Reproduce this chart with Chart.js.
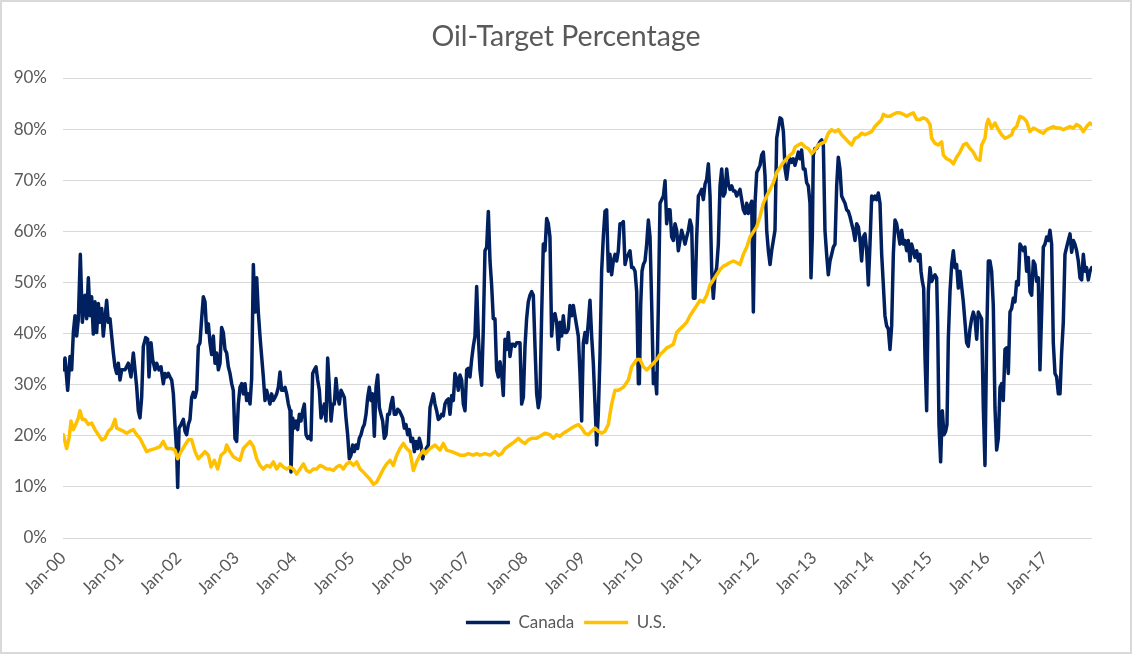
<!DOCTYPE html>
<html>
<head>
<meta charset="utf-8">
<title>Oil-Target Percentage</title>
<script src="https://cdn.jsdelivr.net/npm/chart.js@4.4.1/dist/chart.umd.min.js"></script>
<style>
    html, body { margin: 0; padding: 0; background: #ffffff; }
    #wrap { position: relative; width: 1132px; height: 654px; }
</style>
</head>
<body>
<div id="wrap"><canvas id="oilChart"></canvas></div>
<script>
// Years are counted from Jan 2000 (0 = Jan-00), values are percent
const tickLabels = ['Jan-00', 'Jan-01', 'Jan-02', 'Jan-03', 'Jan-04', 'Jan-05', 'Jan-06', 'Jan-07', 'Jan-08',
    'Jan-09', 'Jan-10', 'Jan-11', 'Jan-12', 'Jan-13', 'Jan-14', 'Jan-15', 'Jan-16', 'Jan-17'];
const yTickValues = [0, 10, 20, 30, 40, 50, 60, 70, 80, 90];
const lastYear = 17.818;

const canada = [
    [0.006,32.9],[0.035,35.2],[0.081,28.9],[0.121,35.5],[0.150,32.9],[0.179,40.2],[0.208,43.5],[0.237,39.5],
    [0.266,42.9],[0.300,55.5],[0.335,42.2],[0.381,47.5],[0.410,42.9],[0.439,50.9],[0.468,43.5],[0.496,47.2],
    [0.525,39.9],[0.554,46.2],[0.583,40.2],[0.612,45.9],[0.641,42.2],[0.670,44.9],[0.698,39.5],[0.727,42.9],
    [0.756,46.5],[0.785,42.2],[0.814,42.9],[0.843,39.5],[0.872,36.2],[0.900,33.5],[0.929,32.2],[0.958,34.2],
    [0.987,30.9],[1.016,32.9],[1.074,32.9],[1.131,34.2],[1.177,31.5],[1.218,36.2],[1.247,32.9],[1.276,29.5],
    [1.304,24.9],[1.333,23.5],[1.362,27.5],[1.391,37.5],[1.431,39.2],[1.466,38.9],[1.489,31.5],[1.524,38.2],
    [1.553,34.9],[1.593,32.9],[1.622,34.2],[1.662,32.9],[1.697,33.5],[1.737,30.2],[1.766,32.2],[1.795,31.5],
    [1.824,32.2],[1.853,31.5],[1.882,30.9],[1.911,28.2],[1.939,22.2],[1.968,16.9],[1.986,9.9],[2.009,21.5],
    [2.043,22.2],[2.084,23.2],[2.113,20.9],[2.141,20.2],[2.170,22.2],[2.199,23.2],[2.228,27.5],[2.257,28.5],
    [2.286,27.5],[2.315,28.9],[2.343,37.5],[2.372,38.2],[2.401,42.9],[2.430,47.2],[2.459,46.2],[2.488,40.2],
    [2.517,41.9],[2.545,38.2],[2.574,35.9],[2.603,39.5],[2.632,34.2],[2.661,36.2],[2.690,32.9],[2.719,34.2],
    [2.747,41.2],[2.776,40.2],[2.805,36.9],[2.834,36.2],[2.863,33.5],[2.892,32.2],[2.921,30.2],[2.949,28.9],
    [2.978,19.5],[3.007,18.9],[3.036,26.2],[3.065,29.5],
    [3.094,30.2],[3.123,28.2],[3.152,30.2],[3.180,26.9],[3.209,28.2],[3.238,26.2],[3.267,31.2],[3.296,53.5],
    [3.325,44.2],[3.354,50.9],[3.382,44.2],[3.411,39.5],[3.440,35.5],[3.469,31.5],[3.498,26.9],[3.527,28.9],
    [3.556,27.5],[3.584,26.2],[3.613,28.2],[3.642,26.9],[3.671,27.5],[3.700,28.2],[3.729,29.5],[3.758,32.5],
    [3.786,28.9],[3.815,28.9],[3.844,29.5],[3.873,28.2],[3.902,26.2],[3.931,24.9],[3.948,12.9],[3.977,23.5],
    [4.006,21.5],[4.035,22.9],[4.064,21.2],[4.092,24.2],[4.121,22.9],[4.150,24.9],[4.179,26.2],[4.208,20.2],
    [4.237,19.5],[4.266,19.9],[4.294,19.2],[4.323,32.2],[4.352,32.9],[4.381,33.5],[4.410,30.9],[4.439,28.9],
    [4.468,23.5],[4.496,24.9],[4.525,26.2],[4.554,22.9],[4.583,35.2],[4.612,29.5],[4.641,22.9],[4.670,26.2],
    [4.698,26.2],[4.727,31.2],[4.756,27.5],[4.785,26.2],[4.814,28.9],[4.843,28.2],[4.872,27.5],[4.900,23.5],
    [4.929,20.2],[4.958,15.5],[4.987,16.2],[5.016,18.2],[5.045,16.9],[5.074,18.2],[5.102,17.5],[5.131,19.5],
    [5.160,20.2],[5.189,21.5],[5.218,22.2],[5.247,24.2],[5.276,27.5],[5.304,29.5],[5.333,26.9],[5.362,28.2],
    [5.391,19.9],[5.420,29.5],[5.449,31.9],[5.478,25.5],[5.506,24.2],[5.535,22.9],[5.564,19.5],[5.593,20.2],
    [5.622,24.2],[5.651,24.2],[5.680,26.2],[5.708,27.5],[5.737,24.2],[5.766,24.2],[5.795,25.2],[5.824,24.9],
    [5.853,24.2],[5.882,23.5],[5.911,21.5],[5.939,22.2],[5.968,20.2],[5.997,21.2],[6.026,18.9],[6.055,19.5],
    [6.084,16.9],[6.113,18.9],[6.141,17.5],[6.170,19.5],[6.199,18.2],[6.228,15.5],[6.257,16.9],
    [6.326,18.2],[6.355,25.5],[6.412,28.2],[6.441,26.2],[6.470,24.9],[6.499,23.2],[6.528,23.5],[6.557,24.2],
    [6.585,23.9],[6.614,26.2],[6.643,26.9],[6.672,27.2],[6.701,24.2],[6.730,27.9],[6.759,26.9],[6.787,32.2],
    [6.816,31.2],[6.845,28.9],[6.874,31.9],[6.903,30.9],[6.932,26.2],[6.961,24.9],[6.990,32.9],[7.018,33.2],
    [7.047,31.5],[7.076,34.9],[7.105,37.5],[7.134,39.5],[7.163,49.2],[7.192,39.5],[7.220,32.9],[7.249,29.9],
    [7.278,40.9],[7.307,56.2],[7.336,56.9],[7.365,63.9],[7.394,54.2],[7.422,49.5],[7.451,42.9],[7.480,42.9],
    [7.509,32.9],[7.538,31.5],[7.567,34.5],[7.596,32.2],[7.624,27.9],[7.653,38.9],[7.682,36.9],[7.711,40.2],
    [7.740,35.5],[7.769,37.9],[7.798,37.9],[7.826,37.5],[7.855,38.2],[7.884,38.2],[7.913,38.2],[7.942,26.2],
    [7.971,27.5],[8.000,37.5],[8.028,42.9],[8.057,46.2],[8.086,47.5],[8.115,48.2],[8.144,47.5],[8.173,37.5],
    [8.202,28.2],[8.230,25.5],[8.259,27.5],[8.288,43.5],[8.317,57.5],[8.346,56.2],[8.375,62.5],[8.404,61.5],
    [8.432,58.9],[8.461,39.5],[8.490,43.5],[8.519,43.9],[8.548,42.2],[8.577,36.9],[8.606,42.2],[8.635,39.5],
    [8.663,43.5],[8.692,40.2],[8.721,40.2],[8.750,40.9],[8.779,45.5],[8.808,43.5],[8.837,45.5],[8.865,43.5],
    [8.894,41.5],[8.923,39.5],[8.952,32.2],[8.981,22.9],[9.010,38.2],[9.039,40.2],[9.067,38.2],[9.096,42.2],
    [9.125,46.5],[9.154,39.5],[9.183,34.2],[9.212,26.2],[9.241,18.2],[9.269,24.2],[9.298,35.5],[9.327,52.2],
    [9.356,58.9],[9.385,63.9],[9.414,64.2],[9.443,52.2],[9.471,55.5],[9.500,51.5],[9.529,54.2],
    [9.559,55.5],[9.588,54.2],[9.616,56.2],[9.645,61.5],[9.674,61.5],[9.703,61.9],[9.732,53.5],[9.761,54.9],
    [9.790,55.5],[9.818,56.2],[9.847,52.9],[9.876,52.9],[9.905,52.2],[9.934,48.2],[9.963,30.2],[9.980,30.2],
    [10.003,45.5],[10.026,52.2],[10.049,53.5],[10.078,54.2],[10.107,57.5],[10.136,62.2],[10.165,58.9],[10.194,45.5],
    [10.223,30.2],[10.251,32.2],[10.280,28.2],[10.309,45.5],[10.338,65.5],[10.367,66.2],[10.396,66.9],[10.425,69.9],
    [10.453,61.5],[10.482,64.2],[10.511,64.2],[10.540,58.9],[10.569,58.2],[10.598,61.5],[10.627,60.2],[10.655,56.2],
    [10.684,58.2],[10.713,60.2],[10.742,58.9],[10.771,57.5],[10.800,58.9],[10.829,60.2],[10.857,62.2],[10.886,60.9],
    [10.915,46.9],[10.944,46.9],[10.973,58.9],[11.002,66.9],[11.031,67.5],[11.059,68.2],[11.088,66.2],[11.117,69.2],
    [11.146,70.2],[11.175,73.2],[11.204,66.9],[11.233,52.2],[11.261,46.9],[11.290,51.5],[11.319,52.9],[11.348,57.5],
    [11.377,68.9],[11.406,72.2],[11.435,66.9],[11.463,67.5],[11.492,72.2],[11.521,69.2],[11.550,68.2],[11.579,68.9],
    [11.608,67.9],[11.637,67.9],[11.665,66.9],[11.694,67.5],[11.723,68.2],[11.752,66.2],[11.781,64.2],[11.810,63.5],
    [11.839,65.5],[11.867,63.5],[11.896,64.9],[11.925,65.9],[11.954,44.2],[11.983,65.5],[12.012,71.5],[12.041,72.2],
    [12.069,72.9],[12.098,74.9],[12.127,75.5],[12.156,70.9],[12.185,60.2],[12.214,56.2],[12.243,53.5],[12.271,56.2],
    [12.300,58.2],[12.329,60.2],[12.358,78.2],[12.387,80.2],[12.416,82.2],[12.445,81.9],[12.474,79.5],[12.503,72.2],
    [12.531,70.2],[12.560,72.9],[12.589,74.2],[12.618,73.5],[12.647,74.2],
    [12.675,72.9],[12.704,74.2],[12.733,75.5],[12.762,74.2],[12.790,75.9],[12.819,72.2],[12.848,72.2],[12.877,69.5],
    [12.906,68.9],[12.935,65.5],[12.952,50.9],[12.975,58.9],[12.992,74.9],[13.021,76.2],[13.050,76.2],[13.079,76.9],
    [13.108,77.5],[13.137,77.9],[13.166,76.9],[13.194,60.2],[13.223,55.5],[13.252,51.5],[13.281,54.2],[13.310,55.5],
    [13.339,56.9],[13.368,57.5],[13.397,68.9],[13.425,74.5],[13.454,72.2],[13.483,66.9],[13.512,66.2],[13.541,65.5],
    [13.570,64.2],[13.599,63.9],[13.627,62.9],[13.656,61.5],[13.685,60.2],[13.714,58.2],[13.743,61.5],[13.772,60.9],
    [13.801,58.2],[13.829,54.2],[13.858,58.9],[13.887,59.5],[13.916,56.2],[13.945,49.5],[13.974,57.5],[14.003,66.9],
    [14.031,66.2],[14.060,66.9],[14.089,66.2],[14.118,67.5],[14.147,65.5],[14.176,55.5],[14.205,49.5],[14.233,43.5],
    [14.262,41.5],[14.291,40.9],[14.320,36.9],[14.349,41.5],[14.378,55.5],[14.407,62.2],[14.435,61.5],[14.464,59.5],
    [14.493,57.5],[14.522,60.2],[14.551,57.5],[14.580,58.2],[14.609,56.2],[14.637,58.2],[14.666,54.2],[14.695,57.5],
    [14.724,56.2],[14.753,54.9],[14.782,56.2],[14.811,54.2],[14.840,55.5],[14.857,52.2],[14.880,50.2],[14.903,48.9],
    [14.926,35.5],[14.955,24.9],[14.984,48.2],[15.013,52.9],[15.042,50.2],[15.070,50.9],[15.099,51.5],[15.128,50.9],
    [15.145,42.2],[15.168,22.2],[15.197,14.9],[15.226,24.9],[15.255,20.2],[15.284,20.9],[15.307,22.2],[15.330,38.9],
    [15.359,48.2],[15.388,53.5],[15.417,56.2],[15.446,52.9],[15.474,53.5],[15.503,48.9],
    [15.532,52.2],[15.590,46.2],[15.619,42.2],[15.647,38.2],[15.676,37.5],[15.705,40.9],[15.734,42.9],[15.763,44.2],
    [15.792,42.9],[15.821,38.9],[15.849,44.2],[15.878,43.5],[15.907,42.9],[15.936,25.5],[15.965,14.2],[15.994,38.9],
    [16.023,54.2],[16.051,54.2],[16.080,52.2],[16.109,45.5],[16.138,25.5],[16.167,17.2],[16.196,19.5],[16.225,29.5],
    [16.253,30.2],[16.282,26.9],[16.311,36.9],[16.340,37.2],[16.369,32.2],[16.398,44.2],[16.427,44.9],[16.455,46.9],
    [16.484,46.2],[16.513,50.2],[16.542,49.5],[16.571,57.5],[16.600,56.9],[16.629,56.2],[16.657,56.9],[16.686,52.2],
    [16.715,54.9],[16.744,48.2],[16.773,47.5],[16.802,54.2],[16.831,53.5],[16.859,50.2],[16.888,50.9],[16.917,32.9],
    [16.946,44.2],[16.975,56.9],[17.004,57.5],[17.033,58.9],[17.061,58.2],[17.090,60.2],[17.119,57.5],[17.148,38.2],
    [17.177,32.2],[17.206,31.5],[17.235,28.2],[17.264,28.2],[17.292,36.2],[17.321,42.2],[17.350,55.5],[17.379,56.9],
    [17.408,58.2],[17.437,59.5],[17.466,55.9],[17.495,58.2],[17.523,57.5],[17.552,56.2],[17.581,54.2],[17.610,50.9],
    [17.639,50.5],[17.668,55.5],[17.697,52.2],[17.725,52.9],[17.754,50.5],[17.783,52.2],[17.812,52.9]
];

const unitedStates = [
    [0.006,20.2],[0.063,17.5],[0.104,19.5],[0.139,22.9],[0.179,21.2],[0.219,22.2],[0.266,23.5],[0.294,24.9],
    [0.335,23.2],[0.381,23.2],[0.439,22.2],[0.496,22.5],[0.554,21.2],[0.612,20.2],[0.670,19.2],[0.727,19.5],
    [0.785,20.9],[0.843,21.5],[0.900,23.2],[0.929,21.5],[0.987,21.2],[1.045,20.9],[1.102,20.5],[1.160,20.9],
    [1.218,21.2],[1.276,20.2],[1.333,19.5],[1.391,18.2],[1.449,16.9],[1.506,17.2],[1.593,17.5],[1.680,17.9],
    [1.737,18.9],[1.795,17.5],[1.882,17.5],[1.939,17.2],[1.986,15.5],[2.043,16.9],[2.113,18.2],[2.170,19.2],
    [2.228,19.2],[2.286,16.9],[2.343,15.5],[2.401,16.2],[2.459,16.9],[2.517,16.2],[2.563,13.9],[2.621,15.2],
    [2.678,13.5],[2.736,16.2],[2.805,16.9],[2.834,18.2],[2.892,16.9],[2.949,15.9],[3.007,15.5],[3.065,15.2],
    [3.123,17.5],[3.180,18.2],[3.238,18.9],[3.296,17.9],[3.354,15.5],[3.411,14.2],[3.469,13.5],[3.527,14.2],
    [3.584,13.9],[3.642,14.9],[3.700,13.5],[3.758,14.5],[3.815,13.9],[3.873,13.5],[3.931,13.9],[3.988,13.5],
    [4.046,12.5],[4.104,13.5],[4.162,14.5],[4.219,13.2],[4.277,12.9],[4.335,13.5],[4.393,13.5],[4.450,14.2],
    [4.508,13.9],[4.566,13.5],[4.623,13.5],[4.681,13.2],[4.739,13.9],[4.797,14.2],[4.854,13.5],[4.912,14.5],
    [4.970,14.9],[5.027,14.2],[5.085,14.9],[5.143,13.5],[5.201,12.9],[5.258,12.2],[5.316,11.5],[5.374,10.5],
    [5.431,10.9],[5.489,12.2],[5.547,13.5],[5.605,14.5],[5.662,15.2],[5.720,14.2],[5.778,16.2],[5.835,17.5],
    [5.893,18.5],[5.951,17.5],[6.009,16.9],[6.066,13.2],[6.124,14.9],[6.182,16.2],[6.240,17.2],
    [6.268,16.5],[6.355,17.5],[6.441,18.2],[6.528,17.2],[6.585,18.5],[6.643,17.2],[6.730,16.9],[6.816,16.5],
    [6.874,16.2],[6.961,16.2],[7.018,16.5],[7.105,16.2],[7.163,16.5],[7.220,16.2],[7.307,16.5],[7.394,16.2],
    [7.480,16.9],[7.538,16.2],[7.596,16.5],[7.653,17.5],[7.740,18.2],[7.826,18.9],[7.884,19.5],[7.942,18.9],
    [8.000,18.5],[8.057,19.2],[8.115,19.5],[8.202,19.5],[8.259,19.9],[8.346,20.5],[8.432,20.2],[8.490,19.5],
    [8.548,20.2],[8.606,19.9],[8.663,20.5],[8.721,20.9],[8.808,21.5],[8.865,21.9],[8.923,22.2],[8.981,21.5],
    [9.039,20.5],[9.096,20.2],[9.154,20.9],[9.212,21.5],[9.269,20.9],[9.327,20.5],[9.385,20.9],[9.443,22.2],
    [9.471,24.2],[9.500,26.2],[9.558,28.9],
    [9.616,28.9],[9.703,29.5],[9.790,30.9],[9.847,33.5],[9.934,34.9],[9.992,34.9],[10.049,33.5],[10.107,32.9],
    [10.165,33.5],[10.223,34.2],[10.280,34.9],[10.338,35.9],[10.396,36.5],[10.453,37.2],[10.511,37.5],[10.569,37.9],
    [10.627,40.2],[10.684,40.9],[10.742,41.5],[10.800,42.2],[10.857,43.5],[10.915,44.5],[10.973,45.5],[11.031,46.5],
    [11.088,46.2],[11.146,47.5],[11.204,49.5],[11.261,50.5],[11.319,51.5],[11.377,52.5],[11.435,53.2],[11.492,53.5],
    [11.550,53.9],[11.608,54.2],[11.665,53.9],[11.723,53.5],[11.781,55.5],[11.839,56.9],[11.896,58.9],[11.954,59.9],
    [12.012,60.9],[12.069,62.9],[12.127,65.5],[12.185,66.9],[12.243,68.2],[12.300,69.5],[12.358,71.5],[12.416,72.5],
    [12.474,73.5],[12.531,74.2],[12.589,74.9],[12.647,75.5],
    [12.675,76.5],[12.733,76.9],[12.790,77.2],[12.848,76.5],[12.906,76.2],[12.964,75.2],[13.021,75.9],[13.079,76.9],
    [13.137,77.2],[13.194,77.5],[13.252,79.2],[13.310,79.9],[13.368,79.5],[13.425,79.9],[13.483,78.9],[13.541,78.2],
    [13.599,77.5],[13.656,76.9],[13.714,78.2],[13.772,78.5],[13.829,79.2],[13.887,78.9],[13.945,79.2],[14.003,79.5],
    [14.060,80.5],[14.118,81.2],[14.176,81.9],[14.205,82.9],[14.262,82.5],[14.320,82.5],[14.378,82.9],[14.435,83.2],
    [14.493,83.2],[14.551,82.9],[14.609,82.5],[14.666,82.9],[14.724,83.2],[14.782,81.9],[14.840,81.9],[14.897,82.2],
    [14.955,81.9],[15.013,80.9],[15.042,78.2],[15.099,77.2],[15.157,76.9],[15.215,77.5],[15.244,74.9],[15.301,74.2],
    [15.359,73.9],[15.417,73.2],[15.474,74.5],
    [15.532,75.5],[15.590,76.9],[15.647,77.2],[15.705,76.2],[15.763,75.5],[15.821,74.2],[15.878,73.9],[15.907,76.9],
    [15.965,78.2],[15.994,80.9],[16.023,81.9],[16.080,80.2],[16.138,81.2],[16.196,79.9],[16.253,78.9],[16.311,78.2],
    [16.369,78.5],[16.427,78.9],[16.455,79.9],[16.513,80.5],[16.571,82.5],[16.629,82.2],[16.686,81.5],[16.744,79.5],
    [16.802,80.2],[16.859,79.9],[16.917,79.5],[16.975,79.2],[17.033,79.9],[17.090,80.2],[17.148,80.5],[17.206,80.2],
    [17.264,80.2],[17.321,79.9],[17.379,80.2],[17.437,80.5],[17.495,80.2],[17.552,80.9],[17.610,80.5],[17.668,79.5],
    [17.725,80.5],[17.783,81.2],[17.812,80.9]
];

const textGray = '#595959';
const gridGray = '#d9d9d9';

Chart.defaults.font.family = "Lato, 'Liberation Sans', sans-serif";
Chart.defaults.color = textGray;

// Light frame round the whole chart, like the Excel chart area
const frame = {
    id: 'frame',
    afterDraw(chart) {
        const c = chart.ctx;
        c.save();
        c.strokeStyle = gridGray;
        c.lineWidth = 2;
        c.strokeRect(1, 1, chart.width - 2, chart.height - 2);
        c.restore();
    }
};

function toPoints(rows) {
    return rows.map(r => ({ x: r[0], y: r[1] }));
}

const ctx = document.getElementById('oilChart');
new Chart(ctx, {
    type: 'line',
    data: {
        datasets: [
            {
                label: 'Canada',
                data: toPoints(canada),
                borderColor: '#002060',
                backgroundColor: '#002060',
                borderWidth: 3.5,
                borderCapStyle: 'round',
                borderJoinStyle: 'round',
                pointRadius: 0,
                tension: 0,
                order: 1
            },
            {
                // U.S. is drawn over Canada, as in the Excel original
                label: 'U.S.',
                data: toPoints(unitedStates),
                borderColor: '#ffc000',
                backgroundColor: '#ffc000',
                borderWidth: 3.5,
                borderCapStyle: 'round',
                borderJoinStyle: 'round',
                pointRadius: 0,
                tension: 0,
                order: 0
            }
        ]
    },
    options: {
        responsive: true,
        maintainAspectRatio: false,
        animation: false,
        layout: {
            padding: { left: 0, right: 0, top: 0, bottom: 13 }
        },
        plugins: {
            title: {
                display: true,
                text: 'Oil-Target Percentage',
                color: textGray,
                font: { size: 28.5, weight: 'normal' },
                padding: { top: 19.5, bottom: 24.3 }
            },
            legend: {
                position: 'bottom',
                labels: {
                    usePointStyle: true,
                    pointStyle: 'line',
                    pointStyleWidth: 44,
                    padding: 10,
                    color: textGray,
                    font: { size: 17 },
                    sort: (a, b) => a.datasetIndex - b.datasetIndex
                }
            },
            tooltip: { enabled: false }
        },
        scales: {
            x: {
                type: 'linear',
                min: 0,
                max: lastYear,
                grid: { display: false, drawTicks: false },
                border: { display: false },
                afterBuildTicks(scale) {
                    scale.ticks = tickLabels.map((_, i) => ({ value: i }));
                },
                afterFit(scale) {
                    scale.height = 66;
                },
                ticks: {
                    minRotation: 45,
                    maxRotation: 45,
                    padding: 10,
                    autoSkip: false,
                    color: textGray,
                    font: { size: 17 },
                    callback: (v) => tickLabels[Math.round(v)]
                }
            },
            y: {
                min: 0,
                max: 90,
                grid: { color: gridGray, lineWidth: 1, drawTicks: false },
                border: { display: false },
                afterBuildTicks(scale) {
                    scale.ticks = yTickValues.map(v => ({ value: v }));
                },
                afterFit(scale) {
                    scale.width = 63;
                },
                ticks: {
                    padding: 16,
                    color: textGray,
                    font: { size: 17 },
                    callback: (v) => v + '%'
                }
            },
            // empty right-hand margin so title and legend stay centred on the canvas
            yRight: {
                position: 'right',
                min: 0,
                max: 90,
                grid: { display: false, drawTicks: false },
                border: { display: false },
                ticks: { display: false },
                afterFit(scale) {
                    scale.width = 40;
                }
            }
        }
    },
    plugins: [frame]
});
</script>
</body>
</html>
